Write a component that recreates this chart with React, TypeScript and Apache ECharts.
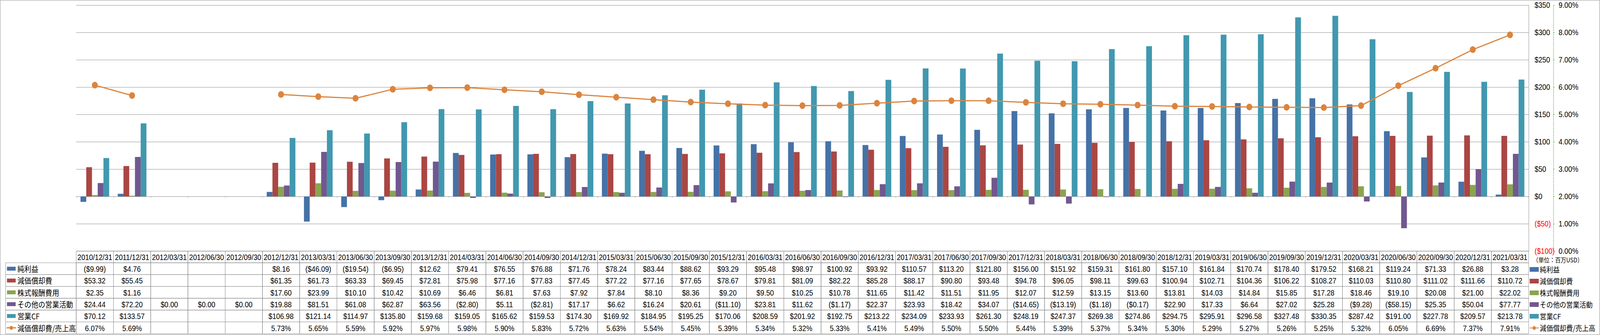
import React, { useEffect, useRef } from "react";
import * as echarts from "echarts";

const categories = [
  "2010/12/31", "2011/12/31", "2012/03/31", "2012/06/30", "2012/09/30", "2012/12/31",
  "2013/03/31", "2013/06/30", "2013/09/30", "2013/12/31", "2014/03/31", "2014/06/30",
  "2014/09/30", "2014/12/31", "2015/03/31", "2015/06/30", "2015/09/30", "2015/12/31",
  "2016/03/31", "2016/06/30", "2016/09/30", "2016/12/31", "2017/03/31", "2017/06/30",
  "2017/09/30", "2017/12/31", "2018/03/31", "2018/06/30", "2018/09/30", "2018/12/31",
  "2019/03/31", "2019/06/30", "2019/09/30", "2019/12/31", "2020/03/31", "2020/06/30",
  "2020/09/30", "2020/12/31", "2021/03/31",
];

const netIncome = [
  -9.99, 4.76, null, null, null, 8.16, -46.09, -19.54, -6.95, 12.62, 79.41, 76.55,
  76.88, 71.76, 78.24, 83.44, 88.62, 93.29, 95.48, 98.97, 100.92, 93.92, 110.57, 113.2,
  121.8, 156.0, 151.92, 159.31, 161.8, 157.1, 161.84, 170.74, 178.4, 179.52, 168.21, 119.24,
  71.33, 26.88, 3.28,
];

const depreciation = [
  53.32, 55.45, null, null, null, 61.35, 61.73, 63.33, 69.45, 72.81, 75.98, 77.16,
  77.83, 77.45, 77.22, 77.16, 77.65, 78.67, 79.81, 81.09, 82.22, 85.28, 88.17, 90.8,
  93.48, 94.78, 96.05, 98.11, 99.63, 100.94, 102.71, 104.36, 106.22, 108.27, 110.03, 110.8,
  111.02, 111.66, 110.72,
];

const stockComp = [
  2.35, 1.16, null, null, null, 17.6, 23.99, 10.1, 10.42, 10.69, 6.46, 6.81,
  7.63, 7.92, 7.84, 8.1, 8.36, 9.2, 9.5, 10.25, 10.78, 11.65, 11.42, 11.51,
  11.95, 12.07, 12.59, 13.15, 13.6, 13.81, 14.03, 14.84, 15.85, 17.28, 18.46, 19.1,
  20.08, 21.0, 22.02,
];

const otherOps = [
  24.44, 72.2, 0, 0, 0, 19.88, 81.51, 61.08, 62.87, 63.56, -2.8, 5.11,
  -2.81, 17.17, 6.62, 16.24, 20.61, -11.1, 23.81, 11.62, -1.17, 22.37, 23.93, 18.42,
  34.07, -14.65, -13.19, -1.18, -0.17, 22.9, 17.33, 6.64, 27.02, 25.28, -9.28, -58.15,
  25.35, 50.04, 77.77,
];

const operatingCF = [
  70.12, 133.57, null, null, null, 106.98, 121.14, 114.97, 135.8, 159.68, 159.05, 165.62,
  159.53, 174.3, 169.92, 184.95, 195.25, 170.06, 208.59, 201.92, 192.75, 213.22, 234.09, 233.93,
  261.3, 248.19, 247.37, 269.38, 274.86, 294.75, 295.91, 296.58, 327.48, 330.35, 287.42, 191.0,
  227.78, 209.57, 213.78,
];

const depRatio = [
  6.07, 5.69, null, null, null, 5.73, 5.65, 5.59, 5.92, 5.97, 5.98, 5.9,
  5.83, 5.72, 5.63, 5.54, 5.45, 5.39, 5.34, 5.32, 5.33, 5.41, 5.49, 5.5,
  5.5, 5.44, 5.39, 5.37, 5.34, 5.3, 5.29, 5.27, 5.26, 5.25, 5.32, 6.05,
  6.69, 7.37, 7.91,
];

const seriesNames = ["純利益", "減価償却費", "株式報酬費用", "その他の営業活動", "営業CF", "減価償却費/売上高"];
const colors = ["#4572A7", "#AA4643", "#89A54E", "#71588F", "#4198AF", "#DB843D"];
const unitLabel = "（単位：百万USD）";

const W = 4597;
const H = 858;
const gridLeft = 219;
const gridRight = 4392;
const gridTop = 13;
const gridBottom = 643;
const headerH = 30;
const rowH = 30.3;
const legendColLeft = 16;
const border = "#8a8a8a";
const numFontFamily = '"Liberation Sans Narrow", "Liberation Sans", Arial, sans-serif';
const numFont = `20px ${numFontFamily}`;
const cjkFont = '20px "Noto Sans CJK JP", sans-serif';

const fmtMoney = (v: number | null) => {
  if (v === null || v === undefined) return "";
  const a = Math.abs(v).toFixed(2);
  return v < 0 ? `($${a})` : `$${a}`;
};
const fmtPct = (v: number | null) => (v === null || v === undefined ? "" : `${v.toFixed(2)}%`);

function txt(x: number, y: number, text: string, font: string, align: string) {
  return {
    type: "text",
    silent: true,
    x,
    y,
    style: { text, font, fill: "#000", textAlign: align, textVerticalAlign: "middle", align, verticalAlign: "middle" },
  };
}

function cell(x: number, y: number, w: number, h: number) {
  return {
    type: "rect",
    silent: true,
    shape: { x, y, width: w, height: h },
    style: { fill: "none", stroke: border, lineWidth: 1 },
  };
}

function buildTable() {
  const n = categories.length;
  const catW = (gridRight - gridLeft) / n;
  const els: any[] = [];
  els.push({
    type: "rect",
    silent: true,
    shape: { x: 0.5, y: 0.5, width: W - 1.5, height: H - 1.5 },
    style: { fill: "none", stroke: border, lineWidth: 1 },
  });
  for (let i = 0; i < n; i++) {
    const x = gridLeft + i * catW;
    els.push(cell(x, gridBottom, catW, headerH));
    els.push(txt(x + catW / 2, gridBottom + headerH / 2 + 1, categories[i], numFont, "center"));
  }
  const rows = [netIncome, depreciation, stockComp, otherOps, operatingCF, depRatio];
  rows.forEach((vals, r) => {
    const y = gridBottom + headerH + r * rowH;
    const yc = y + rowH / 2;
    els.push(cell(legendColLeft, y, gridLeft - legendColLeft, rowH));
    if (r < 5) {
      els.push({
        type: "rect",
        silent: true,
        shape: { x: 20, y: yc - 5, width: 25, height: 10 },
        style: { fill: colors[r] },
      });
    } else {
      els.push({
        type: "line",
        silent: true,
        shape: { x1: 19, y1: yc, x2: 46, y2: yc },
        style: { stroke: colors[r], lineWidth: 3 },
      });
      els.push({
        type: "circle",
        silent: true,
        shape: { cx: 32.5, cy: yc, r: 5 },
        style: { fill: colors[r] },
      });
    }
    els.push(txt(50, yc, seriesNames[r], cjkFont, "left"));
    for (let i = 0; i < n; i++) {
      const x = gridLeft + i * catW;
      els.push(cell(x, y, catW, rowH));
      const t = r === 5 ? fmtPct(vals[i] as number | null) : fmtMoney(vals[i] as number | null);
      if (t) els.push(txt(x + catW / 2, yc + 1, t, numFont, "center"));
    }
  });
  els.push(txt(4404, 665, unitLabel, '16px "Noto Sans CJK JP", sans-serif', "left"));
  return els;
}

export default function App() {
  const ref = useRef<HTMLDivElement>(null);
  useEffect(() => {
    const el = ref.current;
    if (!el) return;
    const vw = document.documentElement.clientWidth || window.innerWidth || W;
    if (vw < W) {
      el.style.transformOrigin = "0 0";
      el.style.transform = `scaleX(${vw / W})`;
    }
    const chart = echarts.init(el, undefined, { renderer: "svg" });
    const barSeries = [netIncome, depreciation, stockComp, otherOps, operatingCF].map((d, i) => ({
      name: seriesNames[i],
      type: "bar",
      data: d,
      yAxisIndex: 0,
      barGap: "0%",
      barCategoryGap: "23%",
      itemStyle: { color: colors[i] },
    }));
    chart.setOption({
      animation: false,
      backgroundColor: "#fff",
      grid: { left: gridLeft, top: gridTop, width: gridRight - gridLeft, height: gridBottom - gridTop, containLabel: false },
      legend: {
        orient: "vertical",
        left: 4394,
        top: 680,
        padding: 0,
        itemGap: 10,
        itemWidth: 26,
        itemHeight: 12,
        selectedMode: false,
        textStyle: { fontSize: 19, fontFamily: '"Noto Sans CJK JP", sans-serif', color: "#000", lineHeight: 20, padding: [0, 0, 0, -2] },
        data: seriesNames.map((n, i) => (i < 5 ? { name: n, icon: "rect" } : { name: n })),
      },
      xAxis: {
        type: "category",
        data: categories,
        boundaryGap: true,
        axisLine: { show: true, lineStyle: { color: border } },
        axisTick: { show: true, length: 3, lineStyle: { color: border } },
        axisLabel: { show: false },
        splitLine: { show: false },
      },
      yAxis: [
        {
          type: "value",
          position: "right",
          min: -100,
          max: 350,
          interval: 50,
          axisLine: { show: true, lineStyle: { color: border } },
          axisTick: { show: false },
          splitLine: { show: true, lineStyle: { color: border, width: 1 } },
          axisLabel: {
            margin: 17,
            align: "left",
            fontSize: 20,
            fontFamily: numFontFamily,
            formatter: (v: number) => (v < 0 ? `($${-v})` : `$${v}`),
            color: (v: any) => (Number(v) < 0 ? "#FF0000" : "#000000"),
          },
        },
        {
          type: "value",
          position: "right",
          offset: 71,
          min: 0,
          max: 9,
          interval: 1,
          axisLine: { show: true, lineStyle: { color: "#00CC00", type: "dashed", width: 1 } },
          axisTick: { show: true, inside: false, length: 4, lineStyle: { color: "#00CC00" } },
          splitLine: { show: false },
          axisLabel: {
            margin: 15,
            align: "left",
            fontSize: 20,
            color: "#000",
            fontFamily: numFontFamily,
            formatter: (v: number) => `${v.toFixed(2)}%`,
          },
        },
      ],
      series: [
        ...barSeries,
        {
          name: seriesNames[5],
          type: "line",
          yAxisIndex: 1,
          data: depRatio,
          connectNulls: false,
          symbol: "circle",
          symbolSize: 17,
          lineStyle: { color: colors[5], width: 3 },
          itemStyle: { color: colors[5] },
          z: 5,
        },
      ],
      graphic: { elements: buildTable() },
    });
    return () => chart.dispose();
  }, []);
  return <div ref={ref} style={{ position: "absolute", left: 0, top: 0, width: W, height: H }} />;
}
